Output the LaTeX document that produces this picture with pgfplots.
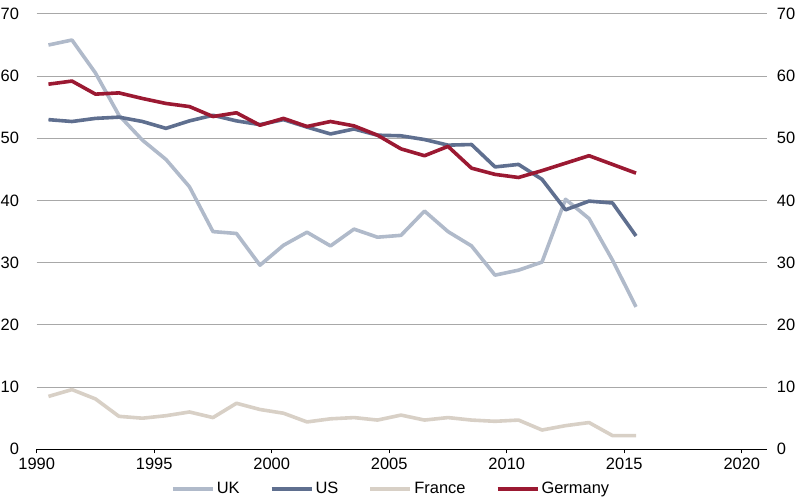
\documentclass[border=0pt]{standalone}
\usepackage{fontspec}
\setmainfont{Liberation Sans}
\usepackage{pgfplots}
\usepackage{pgfplotstable}
\pgfplotsset{compat=1.18}
\definecolor{ukc}{HTML}{B0BACA}
\definecolor{usc}{HTML}{5F6F8F}
\definecolor{frc}{HTML}{D8D0C6}
\definecolor{dec}{HTML}{9B1932}
\definecolor{gridc}{HTML}{A8A8A8}
\pgfplotstableread{
year uk us fr de
1990.5 65.0 53.0 8.5 58.7
1991.5 65.8 52.7 9.6 59.2
1992.5 60.5 53.2 8.1 57.1
1993.5 53.7 53.4 5.3 57.3
1994.5 49.7 52.7 5.0 56.4
1995.5 46.6 51.6 5.4 55.6
1996.5 42.2 52.8 6.0 55.1
1997.5 35.0 53.7 5.1 53.5
1998.5 34.7 52.8 7.4 54.1
1999.5 29.6 52.2 6.4 52.1
2000.5 32.8 53.0 5.8 53.2
2001.5 34.9 51.8 4.4 51.9
2002.5 32.7 50.7 4.9 52.7
2003.5 35.4 51.5 5.1 52.0
2004.5 34.1 50.5 4.7 50.5
2005.5 34.4 50.4 5.5 48.3
2006.5 38.3 49.8 4.7 47.2
2007.5 35.0 48.9 5.1 48.7
2008.5 32.7 49.0 4.7 45.2
2009.5 28.0 45.4 4.5 44.2
2010.5 28.8 45.8 4.7 43.7
2011.5 30.1 43.4 3.1 44.8
2012.5 40.2 38.5 3.8 46.0
2013.5 37.1 39.9 4.3 47.2
2014.5 30.4 39.6 2.2 45.8
2015.5 22.9 34.3 2.2 44.4
}\data
\begin{document}
\begin{tikzpicture}
\useasboundingbox (-36.7bp,-53.7bp) rectangle (763.3bp,449.3bp);
\pgfplotsset{
  base/.style={
    at={(0,0)}, anchor=south west,
    scale only axis, width=730bp, height=435.4bp,
    xmin=1990, xmax=2021.06, ymin=0, ymax=70,
    ytick={0,10,...,70},
    /pgf/number format/1000 sep={},
    /pgf/number format/assume math mode=true,
    ticklabel style={font=\fontsize{16.5}{19}\selectfont},
    ytick style={draw=none},
    y axis line style={draw=none},
  }
}
\begin{axis}[
  base,
  xtick={1990,1995,...,2020},
  axis x line*=bottom, axis y line*=left,
  x axis line style={black, line width=1.5bp, -},
  xtick style={black, line width=1.2bp},
  tick align=outside, major tick length=4bp,
  ymajorgrids, major grid style={color=gridc, line width=0.9bp},
  yticklabel style={anchor=east, inner sep=0pt, xshift=-13.5bp},
  xticklabel style={anchor=north, inner sep=0pt, yshift=-4.5bp},
  legend style={draw=none, fill=none, at={(axis description cs:0.4853,-0.0907)}, anchor=center,
    font=\fontsize{16.5}{19}\selectfont, legend columns=4,
    /tikz/every even column/.append style={column sep=28bp},
    /tikz/every odd column/.append style={column sep=0bp}},
  legend image code/.code={\draw[#1, line width=4bp, line cap=butt] (0bp,0bp) -- (40bp,0bp);},
  every axis plot/.append style={line width=3.6bp, line join=round},
]
\addplot[ukc] table[x=year, y=uk] {\data};
\addlegendentry{UK}
\addplot[usc] table[x=year, y=us] {\data};
\addlegendentry{US}
\addplot[frc] table[x=year, y=fr] {\data};
\addlegendentry{France}
\addplot[dec] table[x=year, y=de] {\data};
\addlegendentry{Germany}
\end{axis}
\begin{axis}[
  base,
  hide x axis,
  axis y line*=right,
  yticklabel style={anchor=west, inner sep=0pt, xshift=10bp},
]
\end{axis}
\end{tikzpicture}
\end{document}
